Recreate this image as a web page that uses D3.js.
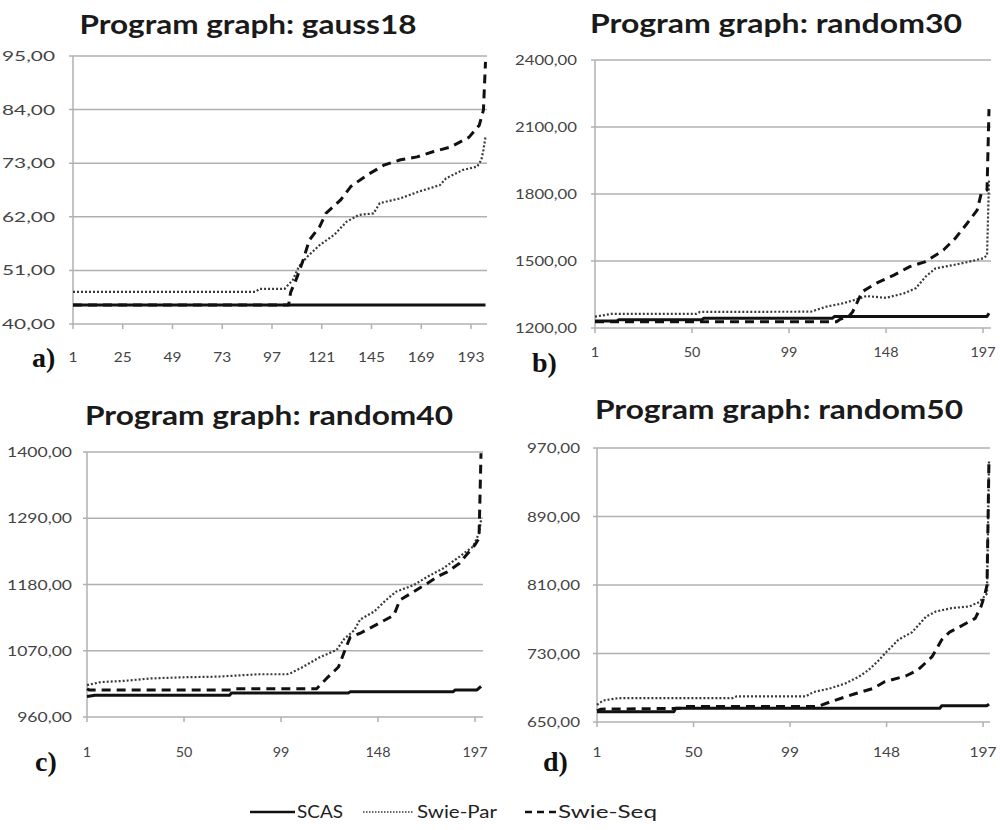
<!DOCTYPE html>
<html><head><meta charset="utf-8">
<script src="https://cdn.jsdelivr.net/npm/d3@7"></script>
<style>body{margin:0;background:#fff}</style>
</head><body>
<svg id="chart" width="1000" height="830"></svg>
<script>
// ---------- DATA ([solution index, value]) ----------
const seriesNames = ["SCAS", "Swie-Par", "Swie-Seq"];

const gaussSCAS = [[1,43.9],[200,43.9]];
const gaussPar  = [[1,46.6],[89,46.6],[91,47.2],[103,47.2],[107,49.0],[110,51.8],[114,53.8],[120,56.2],[127,58.3],[133,61.0],[139,62.4],[146,62.7],[149,64.8],[159,65.8],[168,67.2],[178,68.5],[181,69.9],[189,71.6],[196,72.3],[198,73.7],[199,75.7],[200,78.4]];
const gaussSeq  = [[1,43.9],[105,43.9],[106,46.5],[109,49.5],[112,53.1],[115,57.2],[120,60.0],[123,62.7],[130,65.4],[135,68.2],[143,70.6],[151,72.6],[159,73.7],[167,74.3],[175,75.4],[183,76.3],[192,78.3],[197,80.8],[199,83.9],[200,93.8]];
const gaussYTicks = [40,51,62,73,84,95];
const gaussXTicks = [1,25,49,73,97,121,145,169,193];

const r30SCAS = [[1,1231],[12,1231],[13,1237],[55,1237],[56,1244],[121,1244],[122,1252],[199,1252],[200,1266]];
const r30Par  = [[1,1251],[6,1258],[9,1263],[52,1263],[54,1272],[110,1273],[118,1296],[126,1310],[135,1333],[138,1343],[148,1335],[157,1355],[163,1378],[168,1430],[173,1467],[182,1482],[190,1497],[197,1512],[199,1525],[200,1860]];
const r30Seq  = [[1,1228],[123,1228],[125,1240],[129,1250],[131,1270],[136,1363],[143,1400],[152,1437],[160,1475],[168,1497],[177,1549],[183,1602],[189,1669],[194,1728],[196,1800],[199,1818],[200,2180]];
const r30YTicks = [1200,1500,1800,2100,2400];
const r30XTicks = [1,50,99,148,197];

const r40SCAS = [[1,994],[5,996],[73,996],[74,1000],[133,1000],[134,1002],[186,1002],[187,1005],[198,1005],[200,1011]];
const r40Par  = [[1,1013],[8,1018],[20,1020],[33,1024],[50,1026],[67,1027],[88,1031],[102,1031],[104,1033],[110,1043],[119,1060],[127,1071],[131,1090],[136,1104],[139,1122],[146,1135],[152,1154],[157,1168],[166,1179],[173,1193],[181,1207],[189,1226],[196,1243],[199,1265],[200,1287]];
const r40Seq  = [[1,1007],[2,1005],[75,1005],[76,1007],[117,1007],[122,1024],[128,1043],[132,1077],[134,1093],[139,1099],[147,1113],[156,1129],[159,1154],[166,1168],[173,1182],[178,1193],[183,1201],[189,1215],[197,1246],[199,1257],[200,1398]];
const r40YTicks = [960,1070,1180,1290,1400];
const r40XTicks = [1,50,99,148,197];

const r50SCAS = [[1,662],[40,662],[41,666],[175,666],[176,669],[199,669],[200,671]];
const r50Par  = [[1,670],[4,675],[12,678],[70,678],[72,680],[107,680],[111,685],[119,689],[127,695],[134,703],[139,711],[144,722],[148,732],[154,746],[161,755],[168,773],[173,779],[181,783],[190,785],[195,790],[197,795],[199,800],[200,955]];
const r50Seq  = [[1,663],[3,665],[45,666],[46,668],[113,668],[120,674],[132,683],[141,689],[147,697],[158,704],[164,711],[171,726],[176,746],[180,755],[185,761],[193,771],[196,785],[198,800],[199,810],[200,958]];
const r50YTicks = [650,730,810,890,970];
const r50XTicks = [1,50,99,148,197];

const titles = ["Program graph: gauss18","Program graph: random30","Program graph: random40","Program graph: random50"];
const letters = ["a)","b)","c)","d)"];

// ---------- LAYOUT ----------
const panels = [
  {series:[gaussSCAS,gaussPar,gaussSeq], yt:gaussYTicks, xt:gaussXTicks,
   x0:73, x1:485.5, gr:487, yTop:56, yBot:324, tx:248, ty:34, tw:337, ylr:55, ylw:53, ylSample:"95,00", xlb:362, xlw:27, xlSample:"193", lx:32, ly:367},
  {series:[r30SCAS,r30Par,r30Seq], yt:r30YTicks, xt:r30XTicks,
   x0:595, x1:989, gr:991, yTop:60, yBot:328, tx:776, ty:33, tw:372, ylr:577, ylw:62, ylSample:"2400,00", xlb:357, xlw:25, xlSample:"197", lx:532, ly:372},
  {series:[r40SCAS,r40Par,r40Seq], yt:r40YTicks, xt:r40XTicks,
   x0:87, x1:481, gr:483, yTop:452, yBot:717, tx:269, ty:425, tw:368, ylr:72, ylw:65, ylSample:"1400,00", xlb:757, xlw:25, xlSample:"197", lx:35, ly:771},
  {series:[r50SCAS,r50Par,r50Seq], yt:r50YTicks, xt:r50XTicks,
   x0:597, x1:989, gr:990, yTop:448, yBot:722, tx:779, ty:419, tw:368, ylr:580, ylw:53, ylSample:"970,00", xlb:757, xlw:27, xlSample:"197", lx:543, ly:771}
];

const styles = [
  {stroke:"#111", width:3, dash:null},
  {stroke:"#3a3a3a", width:2.2, dash:"2,2"},
  {stroke:"#111", width:3, dash:"9,6"}
];

const svg = d3.select("#chart");
const fmt = v => d3.format(".2f")(v).replace(".", ",");
const labFont = "Lato, 'Open Sans', sans-serif";

function measure(txt, size, weight){
  const t = svg.append("text").attr("font-family",labFont).attr("font-size",size).attr("font-weight",weight||400).text(txt);
  const w = t.node().getComputedTextLength(); t.remove(); return w;
}

panels.forEach((p, k) => {
  const g = svg.append("g");
  const dom = d3.extent(p.yt);
  const x = d3.scaleLinear().domain([1,200]).range([p.x0, p.x1]);
  const y = d3.scaleLinear().domain(dom).range([p.yBot, p.yTop]);

  // gridlines
  g.selectAll(".grid").data(p.yt).join("line")
    .attr("x1", p.x0 - 4).attr("x2", p.gr)
    .attr("y1", d => y(d)).attr("y2", d => y(d))
    .attr("stroke", "#b0b0b0").attr("stroke-width", 1.5);
  // y axis line
  g.append("line").attr("x1", p.x0).attr("x2", p.x0).attr("y1", y(dom[1])).attr("y2", y(dom[0]))
    .attr("stroke", "#b0b0b0").attr("stroke-width", 1.5);
  // x ticks
  g.selectAll(".xt").data(p.xt).join("line")
    .attr("x1", d => x(d)).attr("x2", d => x(d))
    .attr("y1", y(dom[0])).attr("y2", y(dom[0]) + 5)
    .attr("stroke", "#b0b0b0").attr("stroke-width", 1.5);

  // y labels
  const yf = p.ylw / measure(p.ylSample, 14);
  g.selectAll(".yl").data(p.yt).join("text")
    .attr("x", p.ylr).attr("y", d => y(d)).attr("dy", "0.36em")
    .attr("text-anchor", "end").attr("font-family", labFont).attr("font-size", 14)
    .attr("fill", "#444").text(d => fmt(d))
    .each(function(){ const w = this.getComputedTextLength(); d3.select(this).attr("textLength", w*yf).attr("lengthAdjust","spacingAndGlyphs"); });

  // x labels
  const xf = p.xlw / measure(p.xlSample, 14);
  g.selectAll(".xl").data(p.xt).join("text")
    .attr("x", d => x(d)).attr("y", p.xlb)
    .attr("text-anchor", "middle").attr("font-family", labFont).attr("font-size", 14)
    .attr("fill", "#444").text(d => d)
    .each(function(){ const w = this.getComputedTextLength(); d3.select(this).attr("textLength", w*xf).attr("lengthAdjust","spacingAndGlyphs"); });

  // series
  const line = d3.line().x(d => x(d[0])).y(d => y(d[1]));
  p.series.forEach((s, i) => {
    const st = styles[i];
    g.append("path").datum(s).attr("d", line).attr("fill", "none")
      .attr("stroke", st.stroke).attr("stroke-width", st.width)
      .attr("stroke-dasharray", st.dash).attr("stroke-linejoin", "round");
  });

  // title
  g.append("text").attr("x", p.tx).attr("y", p.ty).attr("text-anchor", "middle")
    .attr("font-family", labFont).attr("font-weight", 700).attr("font-size", 26)
    .attr("fill", "#1a1a1a").attr("textLength", p.tw).attr("lengthAdjust", "spacingAndGlyphs")
    .text(titles[k]);

  // panel letter
  g.append("text").attr("x", p.lx).attr("y", p.ly)
    .attr("font-family", "'Liberation Serif', 'Times New Roman', serif").attr("font-weight", 700)
    .attr("font-size", 28).attr("fill", "#111").text(letters[k]);
});

// ---------- LEGEND ----------
const legend = [
  {x1:250, x2:295, tx:297, tw:46},
  {x1:363, x2:413, tx:417, tw:80},
  {x1:525, x2:557, tx:558, tw:99}
];
const lg = svg.append("g");
legend.forEach((l, i) => {
  const st = styles[i];
  lg.append("line").attr("x1", l.x1).attr("x2", l.x2).attr("y1", 812).attr("y2", 812)
    .attr("stroke", st.stroke).attr("stroke-width", i===1 ? 1.5 : 2.5)
    .attr("stroke-dasharray", i===1 ? "1.5,1.5" : (i===2 ? "7,5" : null));
  lg.append("text").attr("x", l.tx).attr("y", 818).attr("font-family", labFont)
    .attr("font-size", 17).attr("fill", "#222")
    .attr("textLength", l.tw).attr("lengthAdjust", "spacingAndGlyphs").text(seriesNames[i]);
});
</script>
</body></html>
